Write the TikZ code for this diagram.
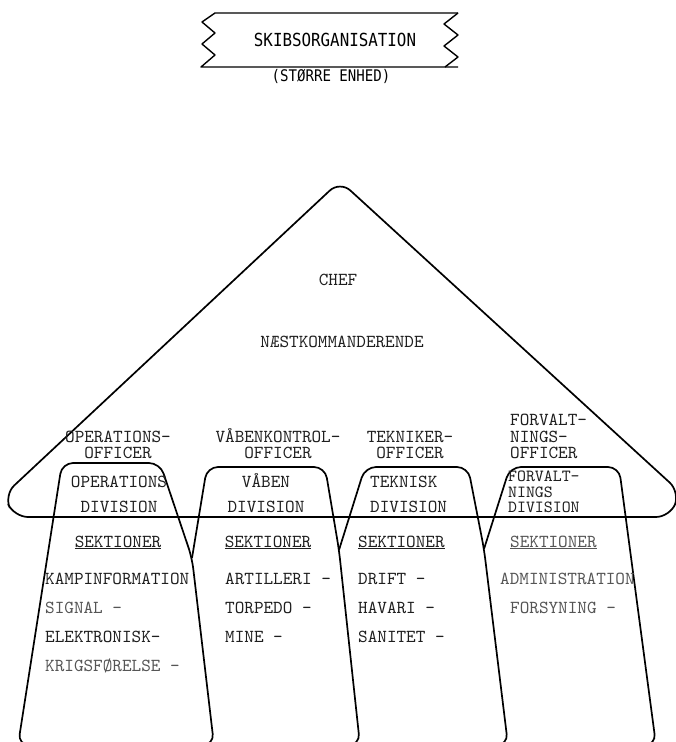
\documentclass[tikz,border=0pt]{standalone}
\usepackage{fontspec}
\usepackage{graphicx}
\newfontfamily\twfamily{lmmono10-regular}[Extension=.otf]
\newfontfamily\ttlfamily{DejaVu Sans Mono}
\newcommand\twfont{\twfamily\fontsize{18.3}{20}\selectfont}
\newcommand\twskip[1]{\twfamily\fontsize{18.3}{#1}\selectfont}
\newcommand\twsmall{\twfamily\fontsize{17}{15.5}\selectfont}
\newcommand\ttlfont{\ttlfamily\fontsize{18}{20}\selectfont}
\newcommand\subfont{\ttlfamily\fontsize{16}{18}\selectfont}
\definecolor{txt}{HTML}{1E1E1E}
\definecolor{txtl}{HTML}{555555}
\tikzset{
  tw/.style={font=\twfont, text=txt, inner sep=0pt, anchor=base},
  twl/.style={font=\twfont, text=txt, inner sep=0pt, anchor=base west},
  stackc/.style={font=\twskip{#1}, text=txt, inner sep=0pt, anchor=south, align=center},
  stackl/.style={font=\twskip{#1}, text=txt, inner sep=0pt, anchor=south west, align=left},
  tightstack/.style={font=\twsmall, text=txt, inner sep=0pt, anchor=south west, align=left},
  faint/.style={text=txtl},
  outline/.style={line width=1.7pt, draw=black, rounded corners=11pt, line join=round},
  banner/.style={line width=1.4pt, draw=black, line join=round},
}
\begin{document}
\begin{tikzpicture}[x=1pt,y=-1pt]
\useasboundingbox[fill=white] (0,0) rectangle (676,742);

% title banner
\draw[banner] (458,13) -- (215,13) -- (202,22) -- (215,33) -- (202,44) -- (215,55) -- (201,67) -- (458,67);
\draw[banner] (458,13) -- (444,24) -- (458,35) -- (444,46) -- (458,57) -- (445,67);
\node[inner sep=0pt, anchor=base, text=black] (title) at (335,46.5) {\ttlfont\scalebox{0.88}[1]{SKIBSORGANISATION}};
\node[inner sep=0pt, anchor=base, text=black] (sub) at (331,81.5) {\subfont\scalebox{0.88}[1]{(STØRRE ENHED)}};

% triangle
\draw[outline, rounded corners=14pt] (340,181) -- (680,492) -- (670,517) -- (14,517) -- (4,495) -- cycle;

% division shapes
\draw[outline] (62,463) -- (160,463) -- (192,558) -- (214,745) -- (18,745) -- cycle;
\draw[outline] (192,558) -- (207,467) -- (325,467) -- (339,550) -- (360,745) -- (214,745);
\draw[outline] (339,550) -- (365,467) -- (468,467) -- (484,549) -- (508,745) -- (360,745);
\draw[outline] (484,549) -- (510,467) -- (619,467) -- (656,745) -- (508,745);

% command
\node[tw] (chef) at (338,285) {CHEF};
\node[tw] (naest) at (342,347) {NÆSTKOMMANDERENDE};

% officers
\node[stackc=16.5] (opoff) at (118,459) {OPERATIONS-\\OFFICER};
\node[stackc=16.5] (vaoff) at (278,459) {VÅBENKONTROL-\\OFFICER};
\node[stackc=16.5] (teoff) at (410,459) {TEKNIKER-\\OFFICER};
\node[stackl=16.5] (fooff) at (510,459) {FORVALT-\\NINGS-\\OFFICER};

% divisions
\node[stackc=25] (opdiv) at (119,513) {OPERATIONS\\DIVISION};
\node[stackc=25] (vadiv) at (266,513) {VÅBEN\\DIVISION};
\node[stackl=25] (tediv) at (370,513) {TEKNISK\\DIVISION};
\node[tightstack] (fodiv) at (508,513) {FORVALT-\\NINGS\\DIVISION};

% sections
\node[tw] (opsek) at (118,547) {\underline{SEKTIONER}};
\node[tw] (vasek) at (268,547) {\underline{SEKTIONER}};
\node[twl] (tesek) at (358,547) {\underline{SEKTIONER}};
\node[twl, faint] (fosek) at (510,547) {\underline{SEKTIONER}};

\node[twl] (op1) at (45,584) {KAMPINFORMATION};
\node[twl, faint] (op2) at (45,613) {SIGNAL -};
\node[twl] (op3) at (45,642) {ELEKTRONISK-};
\node[twl, faint] (op4) at (45,671) {KRIGSFØRELSE -};

\node[twl] (va1) at (225,584) {ARTILLERI -};
\node[twl] (va2) at (225,613) {TORPEDO -};
\node[twl] (va3) at (225,642) {MINE -};

\node[twl] (te1) at (358,584) {DRIFT -};
\node[twl] (te2) at (358,613) {HAVARI -};
\node[twl] (te3) at (358,642) {SANITET -};

\node[twl, faint] (fo1) at (500,584) {ADMINISTRATION};
\node[twl, faint] (fo2) at (510,613) {FORSYNING -};
\end{tikzpicture}
\end{document}
